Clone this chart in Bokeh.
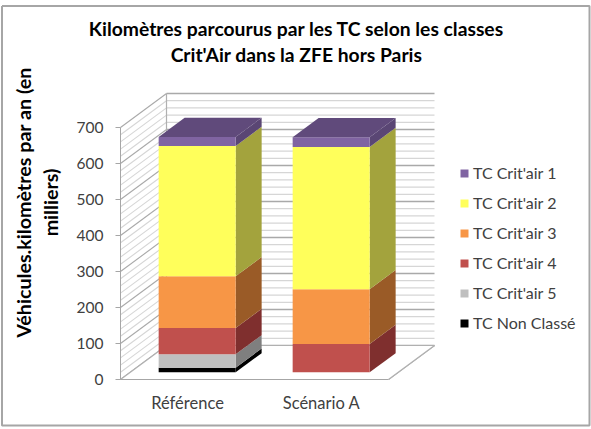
from bokeh.plotting import figure
from bokeh.models import Range1d, FixedTicker, Label, Legend, LegendItem
from bokeh.embed import file_html
from bokeh.resources import INLINE

title_text = "Kilomètres parcourus par les TC selon les classes\nCrit'Air dans la ZFE hors Paris"
ylabel_text = "Véhicules.kilomètres par an (en\nmilliers)"
categories = ["Référence", "Scénario A"]
series_names = ["TC Non Classé", "TC Crit'air 5", "TC Crit'air 4", "TC Crit'air 3", "TC Crit'air 2", "TC Crit'air 1"]
non_classe = [13, 0]
critair5 = [37, 0]
critair4 = [73, 79]
critair3 = [144, 152]
critair2 = [362, 395]
critair1 = [25, 27]
series_values = [non_classe, critair5, critair4, critair3, critair2, critair1]
front_colors = ["#000000", "#BFBFBF", "#C0504D", "#F79646", "#FFFF5B", "#8064A2"]
side_colors = ["#000000", "#7F7F7F", "#7F2F2E", "#9A5B27", "#A3A33D", "#5A4674"]
top_color = "#604A7B"

FONT = "Lato"
PX_PER_X = 134.0
PX_PER_Y = 0.36
WALL_DX = 46 / PX_PER_X
WALL_DY = 34 / PX_PER_Y
BAR_SHIFT = 0.21
BAR_DEPTH = 0.565
BAR_WIDTH = 77 / PX_PER_X
X0, X1 = -0.5, 1.5
YMAX = 700

W, H = 591, 429
LEFT, BOTTOM = 120, 50
XMIN = X0 - LEFT / PX_PER_X
YMIN = -BOTTOM / PX_PER_Y
p = figure(width=W, height=H, output_backend="svg", toolbar_location=None,
           min_border=0,
           x_range=Range1d(XMIN, X0 + (W - LEFT) / PX_PER_X),
           y_range=Range1d(YMIN, (H - BOTTOM) / PX_PER_Y))
p.grid.visible = False
p.outline_line_color = None

# chart area border (given in canvas pixels, left/right/top/bottom)
bl, br, bt, bb = 1.5, 589, 5.5, 425
def cx(px):
    return XMIN + px / PX_PER_X
def cy(px):
    return YMIN + (H - px) / PX_PER_Y
p.line([cx(bl), cx(br), cx(br), cx(bl), cx(bl)], [cy(bt), cy(bt), cy(bb), cy(bb), cy(bt)],
       line_color="#a6a6a6", line_width=2)

# walls and floor
levels = list(range(0, YMAX + 1, 20))
for v in levels:
    major = v % 100 == 0
    col = "#a9a9a9" if major else "#d6d6d6"
    p.line([X0 + WALL_DX, X1 + WALL_DX], [v + WALL_DY, v + WALL_DY], line_color=col, line_width=1.3)
    p.line([X0, X0 + WALL_DX], [v, v + WALL_DY], line_color=col, line_width=1.1)
wall = "#b0b0b0"
p.line([X0 + WALL_DX, X0 + WALL_DX], [WALL_DY, YMAX + WALL_DY], line_color=wall, line_width=1.2)
p.line([X1, X1 + WALL_DX], [0, WALL_DY], line_color=wall, line_width=1.2)
p.patch([X0, X1, X1 + WALL_DX, X0 + WALL_DX], [0, 0, WALL_DY, WALL_DY],
        fill_color="white", line_color=None)
p.line([X1, X1 + WALL_DX], [0, WALL_DY], line_color=wall, line_width=1.2)
p.line([X0, X0 + WALL_DX], [0, WALL_DY], line_color=wall, line_width=1.2)
p.line([X0 + WALL_DX, X1 + WALL_DX], [WALL_DY, WALL_DY], line_color=wall, line_width=1.2)

# bars
sx = BAR_SHIFT * WALL_DX
sy = BAR_SHIFT * WALL_DY
bx = BAR_DEPTH * WALL_DX
by = BAR_DEPTH * WALL_DY
renderers = {}
base = [0.0 for _ in categories]
for name, vals, fc, sc in zip(series_names, series_values, front_colors, side_colors):
    lefts = [i - BAR_WIDTH / 2 + sx for i in range(len(categories))]
    rights = [l + BAR_WIDTH for l in lefts]
    bots = [b + sy for b in base]
    tops = [b + v for b, v in zip(bots, vals)]
    p.patches([[r, r + bx, r + bx, r] for r in rights],
              [[b, b + by, t + by, t] for b, t in zip(bots, tops)],
              fill_color=sc, line_color=None)
    renderers[name] = p.quad(left=lefts, right=rights, bottom=bots, top=tops,
                             fill_color=fc, line_color=None)
    base = [b + v for b, v in zip(base, vals)]
p.patches([[l, r, r + bx, l + bx] for l, r in zip(lefts, rights)],
          [[t, t, t + by, t + by] for t in tops],
          fill_color=top_color, line_color=None)

# axes
ax = "#a6a6a6"
y = p.yaxis[0]
y.fixed_location = X0
y.ticker = FixedTicker(ticks=list(range(0, YMAX + 1, 100)))
y.bounds = (0, YMAX)
y.axis_line_color = ax
y.major_tick_line_color = ax
y.major_tick_in = 0
y.major_tick_out = 5
y.minor_tick_line_color = None
y.major_label_text_font = FONT
y.major_label_text_font_size = "15.5px"
y.major_label_text_color = "#404040"
y.major_label_standoff = 12

x = p.xaxis[0]
x.fixed_location = 0
x.ticker = FixedTicker(ticks=list(range(len(categories))))
x.major_label_overrides = {i: c for i, c in enumerate(categories)}
x.bounds = (X0, X1)
x.axis_line_color = ax
x.major_tick_line_color = None
x.minor_tick_line_color = None
x.major_label_text_font = FONT
x.major_label_text_font_size = "16.5px"
x.major_label_text_color = "#404040"
x.major_label_standoff = 7

# legend
items = [LegendItem(label=n, renderers=[renderers[n]]) for n in reversed(series_names)]
leg = Legend(items=items, location=(459, 97), background_fill_alpha=0, border_line_color=None,
             margin=0, padding=0, spacing=11, glyph_width=10, glyph_height=10, label_height=15,
             label_standoff=4, label_text_font=FONT, label_text_font_size="16px",
             label_text_color="#404040")
p.add_layout(leg, "center")

# title and y label
p.add_layout(Label(x=296, y=388, x_units="screen", y_units="screen", text=title_text,
                   text_font=FONT, text_font_size="19.3px", text_font_style="bold",
                   text_color="#000000", text_align="center", text_baseline="middle",
                   text_line_height=1.13))
p.add_layout(Label(x=36.5, y=227, x_units="screen", y_units="screen", text=ylabel_text,
                   angle=90, angle_units="deg", text_font=FONT, text_font_size="19.7px",
                   text_font_style="bold", text_color="#000000",
                   text_align="center", text_baseline="middle", text_line_height=1.18))

open("out.html", "w").write(file_html(p, INLINE))
